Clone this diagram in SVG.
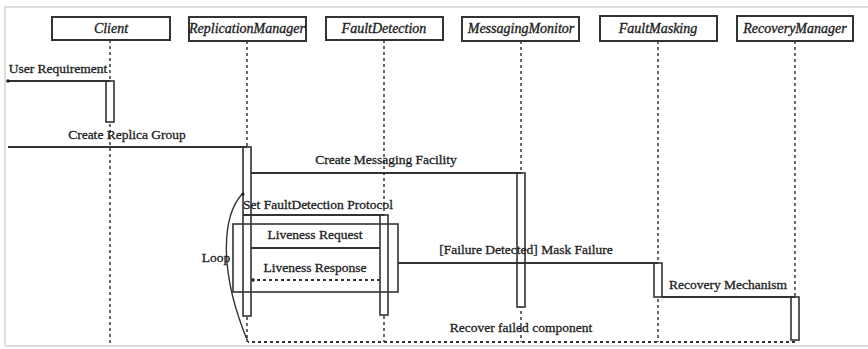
<svg xmlns="http://www.w3.org/2000/svg" width="868" height="349" viewBox="0 0 868 349">
<style>
.hdr rect{fill:#fff;stroke:#333;stroke-width:2}
.hdr text{font-style:italic;font-size:14px;fill:#222;text-anchor:middle;stroke:#222;stroke-width:0.35}
.life{stroke:#444;stroke-width:1.6;stroke-dasharray:3,3;fill:none}
.act{fill:#fff;stroke:#333;stroke-width:1.6}
.msg{stroke:#333;stroke-width:2;fill:none}
.ret{stroke:#333;stroke-width:2;stroke-dasharray:3,3;fill:none}
.lbl{font-size:13.5px;fill:#222;text-anchor:middle;stroke:#222;stroke-width:0.3}
</style>
<rect x="0" y="0" width="868" height="349" fill="#fff"/>
<path d="M5 346 V7 H868 M5 346 H868" stroke="#ddd" stroke-width="2" fill="none"/>

<g font-family="Liberation Serif, DejaVu Serif, serif">
<g id="lifelines">
<line class="life" x1="110" y1="40" x2="110" y2="343"/>
<line class="life" x1="247" y1="41" x2="247" y2="342"/>
<line class="life" x1="384" y1="40" x2="384" y2="342"/>
<line class="life" x1="521" y1="41" x2="521" y2="342"/>
<line class="life" x1="658" y1="41" x2="658" y2="342"/>
<line class="life" x1="795" y1="41" x2="795" y2="300"/>
</g>

<g id="client" class="hdr"><rect x="52" y="17" width="118" height="23"/><text x="111" y="33">Client</text></g>
<g id="replicationManager" class="hdr"><rect x="189" y="17" width="117" height="24"/><text x="247" y="33">ReplicationManager</text></g>
<g id="faultDetection" class="hdr"><rect x="326" y="17" width="117" height="23"/><text x="384" y="33">FaultDetection</text></g>
<g id="messagingMonitor" class="hdr"><rect x="462" y="17" width="117" height="24"/><text x="521" y="33">MessagingMonitor</text></g>
<g id="faultMasking" class="hdr"><rect x="600" y="16" width="117" height="25"/><text x="658" y="33">FaultMasking</text></g>
<g id="recoveryManager" class="hdr"><rect x="737" y="16" width="116" height="25"/><text x="795" y="33">RecoveryManager</text></g>

<g id="activations">
<rect class="act" x="106" y="81" width="8" height="41"/>
<rect class="act" x="243" y="147" width="8" height="169"/>
<rect class="act" x="517" y="173" width="8" height="134"/>
<rect class="act" x="380" y="215" width="8" height="100"/>
<rect class="act" x="654" y="263" width="8" height="34"/>
<rect class="act" x="791" y="297" width="8" height="43"/>
</g>

<g id="loop">
<rect x="233" y="224" width="165" height="68" fill="none" stroke="#333" stroke-width="1.6"/>
<path d="M243 193 C222 215 218 270 248 342" fill="none" stroke="#333" stroke-width="1.4"/>
<circle cx="243" cy="194" r="1.6" fill="#222"/>
<text class="lbl" x="216" y="262">Loop</text>
</g>

<g id="connectors">
<line class="msg" x1="8" y1="81" x2="110" y2="81"/>
<circle cx="8" cy="81" r="1.8" fill="#222"/>
<text class="lbl" x="58" y="73">User Requirement</text>

<line class="msg" x1="8" y1="147" x2="247" y2="147"/>
<text class="lbl" x="127" y="139">Create Replica Group</text>

<line class="msg" x1="251" y1="173" x2="521" y2="173"/>
<text class="lbl" x="386" y="164">Create Messaging Facility</text>

<line class="msg" x1="243" y1="215" x2="384" y2="215"/>
<text class="lbl" x="318" y="209">Set FaultDetection Protocol</text>

<line class="msg" x1="251" y1="248" x2="380" y2="248"/>
<text class="lbl" x="315" y="239">Liveness Request</text>

<line class="ret" x1="380" y1="280" x2="253" y2="280"/>
<circle cx="253" cy="280" r="1.8" fill="#222"/>
<text class="lbl" x="315" y="272">Liveness Response</text>

<line class="msg" x1="398" y1="263" x2="658" y2="263"/>
<text class="lbl" x="526" y="254">[Failure Detected] Mask Failure</text>

<line class="msg" x1="662" y1="297" x2="795" y2="297"/>
<text class="lbl" x="728" y="289">Recovery Mechanism</text>

<line class="ret" x1="795" y1="342" x2="248" y2="342"/>
<text class="lbl" x="521" y="332">Recover failed component</text>
</g>
</g>
</svg>
